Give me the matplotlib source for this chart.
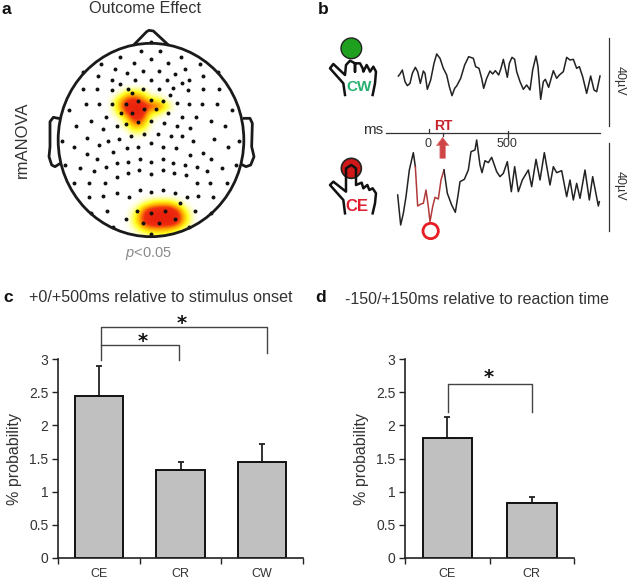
import matplotlib
matplotlib.use('Agg')
import matplotlib.pyplot as plt
from matplotlib.colors import LinearSegmentedColormap
from matplotlib.patches import Ellipse, Circle

plt.rcParams['font.family'] = ['Liberation Sans', 'DejaVu Sans']
plt.rcParams['mathtext.fontset'] = 'custom'
plt.rcParams['mathtext.it'] = 'Liberation Sans:italic'
plt.rcParams['mathtext.rm'] = 'Liberation Sans'

# Bar data
labels_c = ['CE', 'CR', 'CW']
means_c = [2.45, 1.32, 1.44]
errs_c = [0.45, 0.13, 0.28]
labels_d = ['CE', 'CR']
means_d = [1.81, 0.83]
errs_d = [0.31, 0.09]
yticks = [0, 0.5, 1, 1.5, 2, 2.5, 3]
ytick_labels = ['0', '0.5', '1', '1.5', '2', '2.5', '3']

# Electrodes on the head plot (crop pixels)
elec_x = [453, 422, 480, 360, 543, 453, 302, 401, 503, 601, 344, 555, 429, 477, 248, 655,
          380, 525, 295, 609, 335, 405, 453, 500, 568, 360, 545,
          248, 292, 336, 385, 430, 476, 520, 565, 610, 656, 395, 510,
          208, 257, 297, 337, 377, 413, 453, 490, 530, 568, 606, 650, 697,
          229, 272, 317, 362, 395, 433, 468, 505, 547, 588, 632, 675,
          308, 350, 415, 453, 492, 530, 570, 378,
          185, 221, 262, 296, 325, 357, 393, 432, 475, 512, 547, 580, 642, 684, 718,
          262, 290, 340, 380, 415, 453, 490, 528, 570, 610, 632,
          196, 240, 283, 318, 350, 385, 420, 453, 490, 520, 555, 590, 622, 665, 708,
          222, 268, 315, 350, 385, 418, 453, 490, 522, 557, 590, 630, 680,
          268, 310, 350, 388, 420, 453, 490, 525, 560, 595, 640,
          320, 378, 412, 453, 495, 540, 585, 272, 634,
          428, 476, 525, 338, 568, 453]
elec_y = [125, 153, 153, 170, 170, 178, 192, 188, 188, 192, 207, 207, 212, 212, 215, 215,
          220, 222, 228, 228, 240, 240, 240, 240, 240, 252, 248,
          266, 266, 270, 268, 268, 268, 265, 270, 266, 266, 280, 285,
          330, 313, 311, 313, 313, 302, 300, 303, 310, 313, 311, 313, 330,
          379, 362, 350, 340, 338, 327, 327, 340, 350, 350, 362, 379,
          387, 378, 367, 362, 370, 378, 385, 372,
          424, 441, 415, 434, 424, 416, 408, 402, 402, 408, 408, 424, 416, 441, 424,
          461, 478, 455, 445, 440, 430, 440, 445, 465, 460, 478,
          495, 503, 512, 500, 490, 485, 478, 487, 478, 490, 495, 500, 512, 503, 495,
          549, 550, 548, 530, 518, 510, 522, 510, 520, 525, 548, 550, 549,
          590, 588, 578, 590, 570, 575, 570, 578, 590, 588, 590,
          632, 658, 632, 638, 632, 608, 632, 640, 640,
          670, 670, 657, 682, 680, 703]

# Significance clusters on the head plot
heat_front = [[0, 0, 0, 0, 0, 0, 0, 0, 0],
              [0, 0, .3, .4, .3, 0, 0, 0, 0],
              [0, .35, .75, .85, .6, .3, .25, 0, 0],
              [0, .45, .9, 1, .95, .75, .7, .35, 0],
              [0, .25, .75, 1, .95, .3, .25, 0, 0],
              [0, 0, .35, .85, .75, .1, 0, 0, 0],
              [0, 0, .15, .55, .45, 0, 0, 0, 0],
              [0, 0, 0, .2, .15, 0, 0, 0, 0],
              [0, 0, 0, 0, 0, 0, 0, 0, 0]]
heat_back = [[0, 0, 0, 0, 0, 0, 0, 0, 0],
             [0, 0, .15, .35, .4, .4, .15, 0, 0],
             [0, .15, .7, .9, .95, .95, .7, .15, 0],
             [0, .35, .85, 1, 1, 1, .9, .35, 0],
             [0, .35, .85, 1, 1, 1, .85, .3, 0],
             [0, .15, .45, .55, .55, .5, .35, .05, 0],
             [0, 0, .1, .2, .2, .15, 0, 0, 0],
             [0, 0, 0, 0, 0, 0, 0, 0, 0]]

# EEG traces (crop pixels)
cw_x = [265, 270, 277, 285, 292, 300, 307, 316, 323, 331, 340, 345, 352, 362, 372, 380, 390, 400, 410, 418,
        426, 434, 440, 452, 464, 476, 490, 497, 507, 515, 521, 530, 540, 548, 556, 566, 573, 580, 586, 592,
        598, 606, 614, 620, 630, 640, 650, 660, 668, 678, 684, 692, 700, 706, 716, 730, 740, 748, 760, 770,
        780, 790, 800, 808, 818, 830, 842, 852, 860, 870]
cw_y = [228, 222, 210, 245, 257, 250, 220, 202, 215, 250, 213, 220, 268, 240, 190, 162, 175, 205, 225, 260,
        287, 265, 258, 235, 195, 170, 175, 200, 205, 235, 265, 235, 213, 222, 212, 225, 205, 178, 205, 232,
        190, 172, 178, 215, 245, 268, 255, 270, 210, 168, 200, 298, 245, 238, 262, 212, 235, 225, 215, 172,
        180, 178, 205, 200, 230, 280, 228, 270, 275, 228]
ce_x1 = [263, 272, 280, 288, 298, 310, 316]
ce_y1 = [585, 675, 640, 590, 510, 458, 500]
ce_red_x = [316, 323, 333, 340, 348, 355, 360, 368, 375, 385, 393, 402]
ce_red_y = [500, 618, 612, 610, 570, 620, 665, 620, 592, 597, 540, 510]
ce_x2 = [402, 412, 425, 436, 445, 450, 463, 475, 483, 495, 500, 510, 516, 525, 535, 545, 560, 570, 580, 592,
         604, 614, 625, 637, 655, 665, 678, 690, 703, 720, 730, 740, 755, 770, 780, 790, 800, 810, 825, 838,
         848, 865, 868]
ce_y2 = [510, 580, 615, 637, 580, 545, 538, 510, 455, 450, 420, 495, 518, 482, 488, 472, 515, 530, 520, 485,
         575, 500, 575, 540, 510, 560, 478, 540, 458, 555, 500, 518, 512, 590, 540, 600, 550, 595, 510, 600,
         530, 618, 605]

# Hand outlines (crop pixels)
hand_x = [105, 100, 60, 70, 105, 108, 120, 135, 135, 135, 150, 158, 160, 170, 178, 180, 190, 198, 195, 188]
hand_y = [285, 250, 205, 192, 225, 195, 182, 190, 215, 190, 190, 205, 215, 195, 210, 215, 200, 215, 250, 285]
point_x = [105, 100, 60, 70, 108, 108, 124, 138, 138, 155, 160, 172, 178, 188, 198, 195, 188]
point_y = [640, 600, 555, 545, 575, 505, 495, 505, 555, 548, 565, 555, 570, 565, 580, 610, 640]

W, H = 640, 580
fig = plt.figure(figsize=(6.4, 5.8), dpi=100)
text_c = '#333333'


def overlay(x, y, w, h):
    ax = fig.add_axes([x / W, 1 - (y + h) / H, w / W, h / H])
    ax.set_xlim(0, w * 3)
    ax.set_ylim(h * 3, 0)
    ax.axis('off')
    return ax


# Panel a
ax_a = overlay(0, 0, 300, 270)
cmap = LinearSegmentedColormap.from_list('heat', ['#ffffff', '#ffff20', '#ffa800', '#f03010', '#e8200c'])
head = Ellipse((453, 420), 557, 580, fill=False, ec='#1a1a1a', lw=2, zorder=4)
ax_a.add_patch(head)
im1 = ax_a.imshow(heat_front, extent=(322, 533, 424, 253), cmap=cmap, vmin=0, vmax=1,
                  interpolation='bicubic', aspect='auto', zorder=1)
im2 = ax_a.imshow(heat_back, extent=(374, 592, 731, 581), cmap=cmap, vmin=0, vmax=1,
                  interpolation='bicubic', aspect='auto', zorder=1)
im2.set_clip_path(Ellipse((453, 420), 557, 580, transform=ax_a.transData))
ax_a.set_xlim(0, 900)
ax_a.set_ylim(810, 0)
ax_a.scatter(elec_x, elec_y, s=8, c='#111111', lw=0, zorder=3)
ax_a.plot([403, 440, 447, 460, 503], [133, 95, 91, 93, 133], color='#1a1a1a', lw=2, zorder=4)
ax_a.plot([175, 160, 150, 150, 147, 155, 165, 178], [355, 352, 365, 440, 470, 495, 500, 492],
          color='#1a1a1a', lw=2, zorder=4)
ax_a.plot([733, 750, 757, 755, 762, 752, 738, 728], [355, 355, 370, 440, 470, 495, 500, 495],
          color='#1a1a1a', lw=2, zorder=4)
ax_a.text(5, 28, 'a', fontsize=12.5, fontweight='bold', color='#111111', va='center')
ax_a.text(434, 25, 'Outcome Effect', fontsize=11.7, color=text_c, ha='center', va='center')
ax_a.text(66, 420, 'rmANOVA', fontsize=12, color=text_c, rotation=90, ha='center', va='center')
ax_a.text(445, 760, r'$\mathit{p}$<0.05', fontsize=10.5, color='#8a8a8a', ha='center', va='center')

# Panel b
ax_b = overlay(310, 0, 330, 250)
ax_b.plot(cw_x, cw_y, color='#222222', lw=1.1)
ax_b.plot(ce_x1, ce_y1, color='#222222', lw=1.1)
ax_b.plot(ce_red_x, ce_red_y, color='#b03a3a', lw=1.1)
ax_b.plot(ce_x2, ce_y2, color='#222222', lw=1.1)
ax_b.plot([228, 870], [398, 398], color='#333333', lw=0.9)
ax_b.plot([358, 358], [388, 398], color='#333333', lw=0.9)
ax_b.plot([594, 594], [392, 415], color='#333333', lw=0.9)
ax_b.plot([398, 398], [398, 408], color='#333333', lw=0.9)
ax_b.plot([898, 898], [113, 378], color='#333333', lw=0.9)
ax_b.plot([898, 898], [430, 693], color='#333333', lw=0.9)
ax_b.text(190, 390, 'ms', fontsize=11, color=text_c, ha='center', va='center')
ax_b.text(353, 432, '0', fontsize=9, color=text_c, ha='center', va='center')
ax_b.text(590, 432, '500', fontsize=9, color=text_c, ha='center', va='center')
ax_b.text(400, 378, 'RT', fontsize=10, fontweight='bold', color='#c8202c', ha='center', va='center')
ax_b.annotate('', xy=(398, 412), xytext=(398, 475),
              arrowprops=dict(facecolor='#cf4545', edgecolor='#e08080', linewidth=0.5,
                              width=4, headwidth=9, headlength=6))
ax_b.text(928, 243, '40µV', fontsize=9, color=text_c, rotation=270, ha='center', va='center')
ax_b.text(928, 557, '40µV', fontsize=9, color=text_c, rotation=270, ha='center', va='center')
ax_b.add_patch(Circle((124, 145), 31, fc='#1ea01e', ec='#222222', lw=1))
ax_b.add_patch(Circle((124, 505), 30, fc='#d01818', ec='#222222', lw=1.2))
ax_b.plot(hand_x, hand_y, color='#111111', lw=1.8)
ax_b.plot(point_x, point_y, color='#111111', lw=1.8)
ax_b.text(146, 262, 'CW', fontsize=11, fontweight='bold', color='#28b070', ha='center', va='center')
ax_b.text(140, 620, 'CE', fontsize=12, fontweight='bold', color='#e02030', ha='center', va='center')
ax_b.add_patch(Circle((362, 693), 23, fill=False, ec='#e81c24', lw=2))
ax_b.text(22, 28, 'b', fontsize=12.5, fontweight='bold', color='#111111', va='center')


def bars(x0, x1, labels, means, errs):
    ax = fig.add_axes([x0 / W, 1 - 557.7 / H, (x1 - x0) / W, 198.4 / H])
    pos = [i + 0.5 for i in range(len(labels))]
    ax.bar(pos, means, width=0.59, color='#c0c0c0', edgecolor='#111111', linewidth=1.4, zorder=2)
    ax.errorbar(pos, means, yerr=[[0] * len(errs), errs], fmt='none', ecolor='#222222',
                elinewidth=1.3, capsize=2, capthick=1.3, zorder=1)
    ax.set_xlim(0, len(labels))
    ax.set_ylim(0, 3)
    ax.set_yticks(yticks)
    ax.set_yticklabels(ytick_labels, fontsize=10, color=text_c)
    ax.set_xticks(range(len(labels) + 1))
    ax.set_xticklabels([])
    ax.set_xticks(pos, minor=True)
    ax.set_xticklabels(labels, minor=True, fontsize=9, color=text_c)
    ax.tick_params(axis='x', which='minor', length=0, pad=7.5)
    ax.tick_params(axis='x', which='major', length=4, width=1, color='#222222')
    ax.tick_params(axis='y', length=4, width=1, color='#222222', pad=3)
    ax.set_ylabel('% probability', fontsize=11.5, color=text_c, labelpad=5)
    ax.spines[['top', 'right']].set_visible(False)
    ax.spines[['left', 'bottom']].set_linewidth(1.2)
    ax.spines[['left', 'bottom']].set_color('#222222')
    return ax


ax_c = bars(58, 303, labels_c, means_c, errs_c)
ax_d = bars(405.3, 574, labels_d, means_d, errs_d)

# Brackets and titles for c, d (figure pixels on a full overlay)
ax_t = fig.add_axes([0, 0, 1, 1])
ax_t.set_xlim(0, W)
ax_t.set_ylim(H, 0)
ax_t.axis('off')
ax_t.patch.set_alpha(0)
br = dict(color='#444444', lw=1.0)
ax_t.plot([100.7, 100.7, 266.7, 266.7], [360, 327, 327, 352.7], **br)
ax_t.plot([100.7, 179.3, 179.3], [345.3, 345.3, 360], **br)
ax_t.plot([448.3, 448.3, 532, 532], [411.7, 383.7, 383.7, 411.7], **br)
for sx, sy in [(182, 323), (143, 342), (489, 378)]:
    ax_t.text(sx, sy, '*', fontsize=14, fontweight='bold', color='#111111', ha='center', va='center',
              family='DejaVu Sans')
ax_t.text(3, 297, 'c', fontsize=12.5, fontweight='bold', color='#111111', va='center')
ax_t.text(315, 297, 'd', fontsize=12.5, fontweight='bold', color='#111111', va='center')
ax_t.text(161, 298, '+0/+500ms relative to stimulus onset', fontsize=11.6, color=text_c, ha='center', va='center')
ax_t.text(477, 299, '-150/+150ms relative to reaction time', fontsize=11.5, color=text_c, ha='center', va='center')

fig.savefig('out.png', dpi=100)
